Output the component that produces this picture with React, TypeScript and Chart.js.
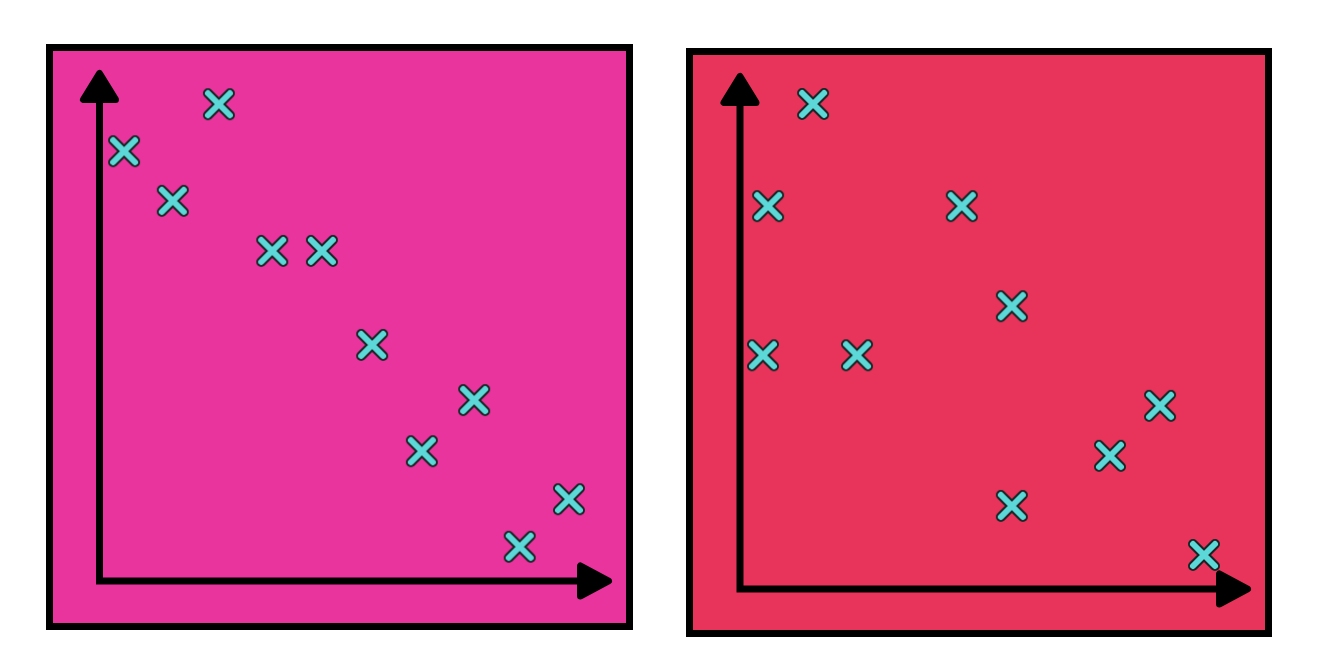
import { useEffect, useRef } from "react";
import { Chart, registerables } from "chart.js";

Chart.register(...registerables);

// left panel (pink) - negative trend
const pinkX = [0.48, 2.33, 1.43, 3.37, 4.34, 5.32, 7.31, 6.29, 9.16, 8.2];
const pinkY = [8.41, 9.33, 7.44, 6.46, 6.46, 4.62, 3.54, 2.54, 1.6, 0.67];

// right panel (red) - weaker trend
const redX = [1.43, 0.55, 4.34, 5.32, 0.45, 2.29, 8.22, 7.24, 5.32, 9.08];
const redY = [9.4, 7.42, 7.42, 5.48, 4.53, 4.53, 3.55, 2.58, 1.61, 0.66];

const axisMin = 0;
const axisMax = 10;

function makeCross() {
  const c = document.createElement("canvas");
  c.width = 40;
  c.height = 40;
  const g = c.getContext("2d");
  if (!g) return c;
  g.lineCap = "round";
  const d = 11;
  const path = () => {
    g.beginPath();
    g.moveTo(20 - d, 20 - d);
    g.lineTo(20 + d, 20 + d);
    g.moveTo(20 + d, 20 - d);
    g.lineTo(20 - d, 20 + d);
  };
  g.strokeStyle = "#182424";
  g.lineWidth = 10;
  path();
  g.stroke();
  g.strokeStyle = "#5cd8d8";
  g.lineWidth = 6;
  path();
  g.stroke();
  return c;
}

// background, frame and arrow axes
const framePlugin = {
  id: "frame",
  beforeDraw(chart: any, _args: any, opts: any) {
    const { ctx, width, height } = chart;
    ctx.save();
    ctx.fillStyle = opts.color;
    ctx.fillRect(0, 0, width, height);
    ctx.strokeStyle = "#000";
    ctx.lineWidth = 7;
    ctx.strokeRect(3.5, 3.5, width - 7, height - 7);
    ctx.restore();
  },
  beforeDatasetsDraw(chart: any) {
    const { ctx, chartArea } = chart;
    const { left, right, top, bottom } = chartArea;
    ctx.save();
    ctx.strokeStyle = "#000";
    ctx.fillStyle = "#000";
    ctx.lineWidth = 7;
    ctx.beginPath();
    ctx.moveTo(left, bottom + 3.5);
    ctx.lineTo(left, top + 28);
    ctx.moveTo(left - 3.5, bottom);
    ctx.lineTo(right - 30, bottom);
    ctx.stroke();

    ctx.lineWidth = 7;
    ctx.lineJoin = "round";
    ctx.beginPath();
    ctx.moveTo(left, top + 3.5);
    ctx.lineTo(left - 16, top + 29.5);
    ctx.lineTo(left + 16, top + 29.5);
    ctx.closePath();
    ctx.fill();
    ctx.stroke();

    ctx.beginPath();
    ctx.moveTo(right - 3.5, bottom);
    ctx.lineTo(right - 31.5, bottom - 15);
    ctx.lineTo(right - 31.5, bottom + 15);
    ctx.closePath();
    ctx.fill();
    ctx.stroke();
    ctx.restore();
  },
};

type PanelProps = {
  xs: number[];
  ys: number[];
  color: string;
  left: number;
  top: number;
  width: number;
  height: number;
  padding: { left: number; right: number; top: number; bottom: number };
};

function Panel({ xs, ys, color, left, top, width, height, padding }: PanelProps) {
  const chartRef = useRef<HTMLCanvasElement>(null);
  const chartInstance = useRef<Chart | null>(null);

  useEffect(() => {
    if (!chartRef.current) return;
    if (chartInstance.current) chartInstance.current.destroy();

    const cross = makeCross();

    chartInstance.current = new Chart(chartRef.current, {
      type: "scatter",
      data: {
        datasets: [
          {
            data: xs.map((x, i) => ({ x, y: ys[i] })),
            pointStyle: cross as any,
            pointRadius: 16,
            clip: false as any,
          },
        ],
      },
      options: {
        animation: false,
        responsive: true,
        maintainAspectRatio: false,
        events: [],
        layout: { padding },
        scales: {
          x: { type: "linear", min: axisMin, max: axisMax, display: false },
          y: { type: "linear", min: axisMin, max: axisMax, display: false },
        },
        plugins: {
          legend: { display: false },
          tooltip: { enabled: false },
          frame: { color },
        } as any,
      },
      plugins: [framePlugin],
    });

    return () => {
      if (chartInstance.current) {
        chartInstance.current.destroy();
        chartInstance.current = null;
      }
    };
  }, []);

  return (
    <div style={{ position: "absolute", left, top, width, height }}>
      <canvas ref={chartRef} />
    </div>
  );
}

export default function App() {
  return (
    <div
      style={{
        position: "fixed",
        left: 0,
        top: 0,
        width: 1319,
        height: 667,
        background: "#fff",
      }}
    >
      <Panel
        xs={pinkX}
        ys={pinkY}
        color="#e9349e"
        left={46}
        top={44}
        width={587}
        height={586}
        padding={{ left: 53.5, right: 21, top: 26, bottom: 49 }}
      />
      <Panel
        xs={redX}
        ys={redY}
        color="#e8345a"
        left={686}
        top={48}
        width={586}
        height={589}
        padding={{ left: 54, right: 21, top: 25, bottom: 48 }}
      />
    </div>
  );
}
